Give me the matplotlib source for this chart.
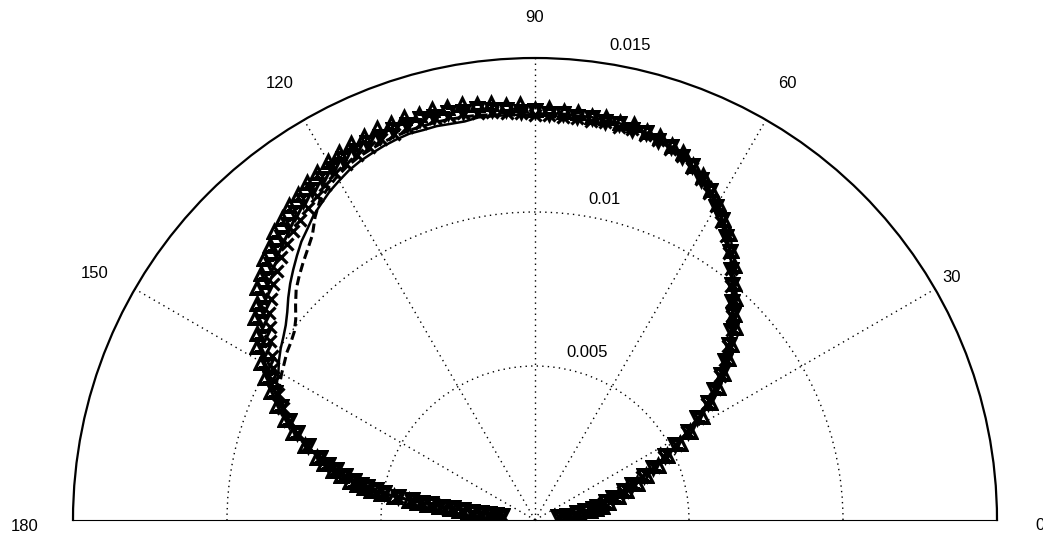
import numpy as np
import matplotlib
matplotlib.use("Agg")
import matplotlib.pyplot as plt

# ---------------- data (radius values in units of 1e-3) ----------------
THETA_DEG = [7, 8, 9, 10, 11, 12, 14, 16, 18, 20, 22, 24, 26, 28, 30, 32, 34, 36, 38, 40,
             42, 44, 46, 48, 50, 52, 54, 56, 58, 60, 62, 64, 66, 68, 70, 72, 74, 76, 78, 80,
             82, 84, 86, 88, 90, 92, 94, 96, 98, 100, 102, 104, 106, 108, 110, 112, 114, 116,
             118, 120, 122, 124, 126, 128, 130, 132, 134, 136, 138, 140, 142, 144, 146, 148,
             150, 152, 154, 156, 158, 160,
             162, 164, 165, 166, 167, 168, 168.5, 169, 169.5, 170, 170.5, 171, 171.25, 171.5,
             171.75, 172, 172.25, 172.5, 172.75, 173, 173.25, 173.5]

R_TRI_UP = [0.85, 1.18, 1.45, 1.80, 2.02, 2.24, 2.44, 2.80, 3.12, 3.52, 3.88, 4.36, 4.78, 5.32,
            5.80, 6.38, 6.84, 7.35, 7.74, 8.20, 8.56, 9.01, 9.30, 9.70, 10.04, 10.49, 10.83,
            11.25, 11.54, 11.90, 12.16, 12.47, 12.63, 12.87, 12.96, 13.11, 13.14, 13.24, 13.22,
            13.30, 13.26, 13.33, 13.30, 13.38, 13.36, 13.50, 13.52, 13.62, 13.64, 13.72, 13.70,
            13.76, 13.72, 13.75, 13.70, 13.71, 13.64, 13.63, 13.54, 13.46, 13.34, 13.24, 13.08,
            12.98, 12.78, 12.64, 12.40, 12.24, 11.97, 11.78, 11.46, 11.24, 10.88, 10.64, 10.26,
            9.92, 9.52, 9.18, 8.74, 8.36,
            7.86, 7.38, 7.10, 6.76, 6.47, 6.13, 5.90, 5.64, 5.40, 5.08, 4.64, 4.14, 3.86, 3.53,
            3.15, 2.79, 2.49, 2.18, 1.88, 1.59, 1.38, 1.16]

R_TRI_DOWN = [0.76, 1.04, 1.38, 1.64, 1.92, 2.06, 2.36, 2.64, 3.04, 3.36, 3.81, 4.19, 4.71, 5.16,
              5.74, 6.22, 6.77, 7.18, 7.67, 8.04, 8.49, 8.84, 9.24, 9.54, 9.97, 10.32, 10.77,
              11.08, 11.47, 11.74, 12.09, 12.30, 12.57, 12.70, 12.89, 12.94, 13.07, 13.06, 13.15,
              13.11, 13.19, 13.15, 13.23, 13.19, 13.27, 13.26, 13.36, 13.38, 13.47, 13.46, 13.52,
              13.50, 13.53, 13.48, 13.49, 13.42, 13.40, 13.33, 13.27, 13.16, 13.06, 12.92, 12.80,
              12.64, 12.50, 12.30, 12.12, 11.90, 11.70, 11.46, 11.20, 10.94, 10.64, 10.36, 10.04,
              9.74, 9.38, 9.04, 8.62, 8.24,
              7.76, 7.27, 6.95, 6.66, 6.34, 6.02, 5.78, 5.55, 5.26, 4.97, 4.52, 4.05, 3.72, 3.42,
              3.04, 2.70, 2.37, 2.07, 1.76, 1.50, 1.27, 1.07]

R_X_MARK = [0.78, 1.06, 1.36, 1.68, 1.90, 2.10, 2.32, 2.67, 2.99, 3.39, 3.76, 4.22, 4.66, 5.19,
            5.69, 6.25, 6.72, 7.21, 7.62, 8.07, 8.44, 8.87, 9.19, 9.57, 9.92, 10.35, 10.72,
            11.11, 11.42, 11.77, 12.03, 12.33, 12.51, 12.73, 12.83, 12.97, 13.00, 13.08, 13.06,
            13.12, 13.09, 13.14, 13.12, 13.17, 13.15, 13.22, 13.24, 13.33, 13.36, 13.42, 13.41,
            13.45, 13.40, 13.42, 13.35, 13.33, 13.26, 13.20, 13.10, 13.00, 12.84, 12.68, 12.54,
            12.38, 12.24, 12.04, 11.86, 11.64, 11.44, 11.18, 10.94, 10.65, 10.37, 10.06, 9.84,
            9.58, 9.30, 8.96, 8.60, 8.22,
            7.79, 7.26, 7.00, 6.70, 6.37, 6.01, 5.81, 5.57, 5.30, 4.97, 4.55, 4.07, 3.75, 3.42,
            3.07, 2.72, 2.40, 2.07, 1.80, 1.52, 1.30, 1.08]

R_SOLID = [0.80, 1.09, 1.41, 1.69, 1.96, 2.11, 2.39, 2.69, 3.06, 3.41, 3.83, 4.24, 4.73, 5.21,
           5.76, 6.27, 6.79, 7.23, 7.69, 8.09, 8.51, 8.89, 9.26, 9.59, 9.99, 10.37, 10.79,
           11.13, 11.49, 11.79, 12.11, 12.35, 12.59, 12.75, 12.91, 12.99, 13.09, 13.12, 13.17,
           13.17, 13.21, 13.20, 13.22, 13.21, 13.18, 13.17, 13.18, 13.18, 13.20, 13.14, 13.15,
           13.18, 13.17, 13.19, 13.15, 13.10, 13.03, 12.96, 12.86, 12.72, 12.58, 12.40, 12.23,
           12.00, 11.80, 11.55, 11.30, 11.05, 10.78, 10.50, 10.27, 10.10, 9.96, 9.80, 9.62,
           9.49, 9.25, 8.95, 8.62, 8.23,
           7.80, 7.29, 7.01, 6.71, 6.39, 6.04, 5.83, 5.60, 5.31, 5.00, 4.57, 4.10, 3.77, 3.45,
           3.10, 2.75, 2.42, 2.10, 1.82, 1.55, 1.32, 1.10]

R_DASHED = [0.79, 1.08, 1.38, 1.68, 1.93, 2.10, 2.36, 2.68, 3.03, 3.40, 3.80, 4.23, 4.70, 5.20,
            5.73, 6.26, 6.76, 7.22, 7.66, 8.08, 8.48, 8.88, 9.23, 9.58, 9.96, 10.36, 10.76,
            11.12, 11.46, 11.78, 12.08, 12.34, 12.56, 12.73, 12.86, 12.95, 13.02, 13.05, 13.07,
            13.07, 13.08, 13.09, 13.10, 13.11, 13.13, 13.15, 13.19, 13.23, 13.27, 13.29, 13.30,
            13.31, 13.30, 13.29, 13.26, 13.22, 13.16, 13.10, 13.00, 12.87, 12.70, 12.50, 12.15,
            11.74, 11.48, 11.25, 11.02, 10.78, 10.46, 10.14, 9.92, 9.80, 9.72, 9.60, 9.50,
            9.39, 9.20, 8.90, 8.60, 8.23,
            7.79, 7.28, 7.00, 6.70, 6.38, 6.03, 5.82, 5.58, 5.30, 4.98, 4.56, 4.08, 3.76, 3.43,
            3.08, 2.73, 2.40, 2.08, 1.80, 1.53, 1.30, 1.08]

ANGLE_TICKS = [0, 30, 60, 90, 120, 150, 180]
ANGLE_LABELS = ["0", "30", "60", "90", "120", "150", "180"]
RADIAL_TICKS = [0.005, 0.01, 0.015]
RADIAL_LABELS = ["0.005", "0.01", "0.015"]
R_MAX = 0.015
UNIT = 1e-3

plt.rcParams["font.family"] = ["Liberation Sans", "DejaVu Sans"]

W, H = 1043, 535
CX, CY, RAD = 535, 15, 462   # centre (px from left / bottom) and outer radius (px)
fig = plt.figure(figsize=(W / 100, H / 100), dpi=100)
fig.patch.set_facecolor("white")
side = 2 * RAD
# a half-disc polar axes is centred vertically inside its square box
ax = fig.add_axes([(CX - RAD) / W, (CY - RAD / 2) / H, side / W, side / H],
                  projection="polar")
ax.set_thetamin(0)
ax.set_thetamax(180)
ax.set_rlim(0, R_MAX)

ax.set_xticks(np.deg2rad(ANGLE_TICKS[1:-1]))
ax.set_xticklabels([])
ax.set_yticks(RADIAL_TICKS[:-1])
ax.set_yticklabels([])
ax.tick_params(length=0)
ax.grid(True, color="black", linestyle=(0, (1, 3)), linewidth=1.0)
for s in ("start", "end", "inner"):
    ax.spines[s].set_visible(False)
ax.spines["polar"].set_linewidth(1.6)

th = np.deg2rad(THETA_DEG)
mk = dict(linestyle="none", markersize=9, markerfacecolor="none",
          markeredgecolor="black", markeredgewidth=2.3)
ax.plot(th, np.array(R_TRI_UP) * UNIT, marker="^", **mk)
ax.plot(th, np.array(R_TRI_DOWN) * UNIT, marker="v", **mk)
ax.plot(th, np.array(R_X_MARK) * UNIT, marker="x", **mk)
ax.plot(th, np.array(R_SOLID) * UNIT, color="black", linestyle="-", linewidth=1.8)
ax.plot(th, np.array(R_DASHED) * UNIT, color="black", linestyle=(0, (3, 1.5)), linewidth=2.2)

# angle labels (positions measured around the outer ring)
ang_pos = [(-0.68, 0.01640), (30.2, 0.01563), (60.0, 0.01638), (90.0, 0.01630),
           (120.3, 0.01643), (150.7, 0.01638), (180.7, 0.01656)]
for (a, r), lab in zip(ang_pos, ANGLE_LABELS):
    ax.text(np.deg2rad(a), r, lab, ha="center", va="center", fontsize=12, clip_on=False)

# radial labels
rl_pos = [(72.8, 0.0057), (77.7, 0.01066), (78.7, 0.0157)]
for (a, r), lab in zip(rl_pos, RADIAL_LABELS):
    ax.text(np.deg2rad(a), r, lab, ha="center", va="center", fontsize=12, clip_on=False)

fig.savefig("out.png", dpi=100, facecolor="white")
